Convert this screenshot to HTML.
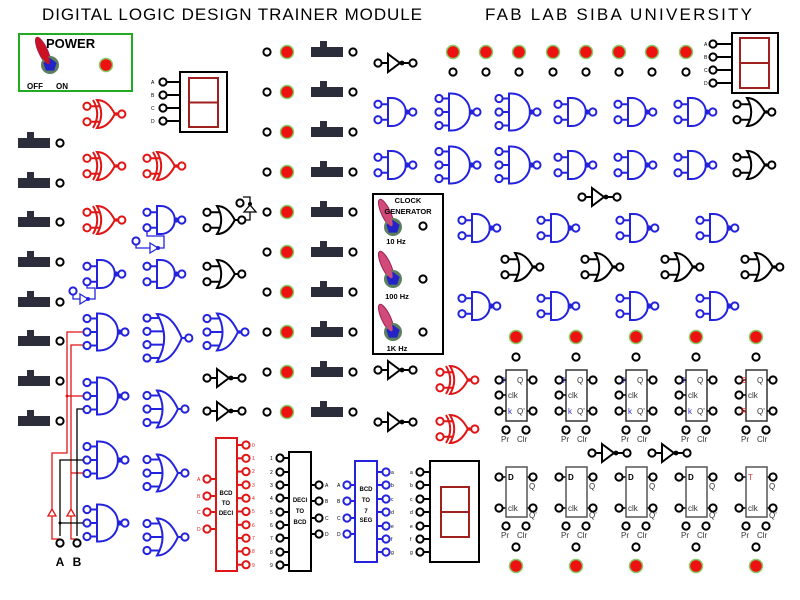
<!DOCTYPE html>
<html><head><meta charset="utf-8"><style>
html,body{margin:0;padding:0;background:#fff;}
svg{display:block;font-family:"Liberation Sans",sans-serif;}
</style></head><body>
<svg width="800" height="600" viewBox="0 0 800 600" xmlns="http://www.w3.org/2000/svg" xmlns:xlink="http://www.w3.org/1999/xlink">
<defs>
<circle id="pin" r="3.6" fill="#fff" stroke="currentColor" stroke-width="2"/>
<circle id="led" r="6.5" fill="#ee1111" stroke="#88cc66" stroke-width="1.5"/>
<g id="sw" fill="#2b2d3a"><rect x="0" y="-5" width="32" height="10"/><rect x="9" y="-11" width="7" height="7"/></g>
<g id="nand2" stroke="currentColor" stroke-width="2" fill="#fff">
<line x1="3.5" y1="-7.75" x2="11" y2="-7.75"/><line x1="3.5" y1="7.75" x2="11" y2="7.75"/>
<circle cx="0" cy="-7.75" r="3.6"/><circle cx="0" cy="7.75" r="3.6"/>
<path d="M10,-14 H13.8 A14,14 0 0 1 13.8,14 H10 Z"/>
<line x1="27.8" y1="0" x2="31.8" y2="0"/><circle cx="29.3" cy="0" r="1.6" fill="currentColor"/><circle cx="34.8" cy="0" r="3.6"/>
</g>
<g id="or2" stroke="currentColor" stroke-width="2" fill="#fff">
<line x1="3.5" y1="-7.75" x2="15" y2="-7.75"/><line x1="3.5" y1="7.75" x2="15" y2="7.75"/>
<circle cx="0" cy="-7.75" r="3.6"/><circle cx="0" cy="7.75" r="3.6"/>
<path d="M10,-14 Q20.7,-14 27.8,0 Q20.7,14 10,14 Q18.4,0 10,-14 Z"/>
<line x1="27.8" y1="0" x2="31.8" y2="0"/><circle cx="34.8" cy="0" r="3.6"/>
</g>
<g id="nor2"><use href="#or2"/><circle cx="29.3" cy="0" r="1.8" fill="currentColor"/></g>
<g id="xnor2"><use href="#nor2"/><path d="M6,-14 Q14.4,0 6,14" fill="none" stroke="currentColor" stroke-width="2"/></g>
<g id="nand3" stroke="currentColor" stroke-width="2" fill="#fff">
<line x1="3.5" y1="-13.5" x2="11" y2="-13.5"/><line x1="3.5" y1="0" x2="11" y2="0"/><line x1="3.5" y1="13.5" x2="11" y2="13.5"/>
<circle cx="0" cy="-13.5" r="3.6"/><circle cx="0" cy="0" r="3.6"/><circle cx="0" cy="13.5" r="3.6"/>
<path d="M10,-18.5 H12.45 A18.5,18.5 0 0 1 12.45,18.5 H10 Z"/>
<line x1="30.95" y1="0" x2="34.95" y2="0"/><circle cx="32.45" cy="0" r="1.6" fill="currentColor"/><circle cx="37.95" cy="0" r="3.6"/>
</g>
<g id="or3" stroke="currentColor" stroke-width="2" fill="#fff">
<line x1="3.5" y1="-13.5" x2="16" y2="-13.5"/><line x1="3.5" y1="0" x2="18" y2="0"/><line x1="3.5" y1="13.5" x2="16" y2="13.5"/>
<circle cx="0" cy="-13.5" r="3.6"/><circle cx="0" cy="0" r="3.6"/><circle cx="0" cy="13.5" r="3.6"/>
<path d="M10,-18.5 Q22.57,-18.5 30.95,0 Q22.57,18.5 10,18.5 Q21.1,0 10,-18.5 Z"/>
<line x1="30.95" y1="0" x2="34.95" y2="0"/><circle cx="37.95" cy="0" r="3.6"/>
</g>
<g id="nor3"><use href="#or3"/><circle cx="32.45" cy="0" r="1.8" fill="currentColor"/></g>
<g id="or4" stroke="currentColor" stroke-width="2" fill="#fff">
<line x1="3.5" y1="-19.95" x2="15" y2="-19.95"/><line x1="3.5" y1="-6.65" x2="19" y2="-6.65"/><line x1="3.5" y1="6.65" x2="19" y2="6.65"/><line x1="3.5" y1="19.95" x2="15" y2="19.95"/>
<circle cx="0" cy="-19.95" r="3.6"/><circle cx="0" cy="-6.65" r="3.6"/><circle cx="0" cy="6.65" r="3.6"/><circle cx="0" cy="19.95" r="3.6"/>
<path d="M10,-24 Q24.9,-24 34.8,0 Q24.9,24 10,24 Q24.4,0 10,-24 Z"/>
<line x1="34.8" y1="0" x2="38.8" y2="0"/><circle cx="41.8" cy="0" r="3.6"/>
</g>
<g id="inv" stroke="currentColor" stroke-width="2" fill="#fff">
<circle cx="0" cy="0" r="3.6"/><line x1="3.5" y1="0" x2="10" y2="0"/>
<path d="M10,-9 L22,0 L10,9 Z"/><circle cx="24" cy="0" r="2.4" fill="currentColor" stroke="none"/>
<line x1="24" y1="0" x2="31" y2="0"/><circle cx="35" cy="0" r="3.6"/>
</g>
<g id="knob">
<ellipse cx="-7" cy="-14" rx="4.5" ry="15" fill="currentColor" stroke="#a02050" stroke-width="1" transform="rotate(-25 -7 -14)"/>
<circle r="9" fill="#5d7f5d"/>
<polygon points="0,-7 6.66,-2.16 4.11,5.66 -4.11,5.66 -6.66,-2.16" fill="#2323c8"/>
<ellipse cx="-5" cy="-9" rx="3" ry="9" fill="currentColor" transform="rotate(-25 -5 -9)"/>
</g>
<g id="ff" color="#000">
<use href="#led" x="10" y="337"/><use href="#pin" x="10" y="357"/>
<rect x="0" y="370" width="21" height="51" fill="none" stroke="#333" stroke-width="1.5"/>
<g stroke="#000" stroke-width="1.5"><line x1="-4" y1="380" x2="0" y2="380"/><line x1="-4" y1="395" x2="0" y2="395"/><line x1="-4" y1="411" x2="0" y2="411"/><line x1="21" y1="380" x2="24" y2="380"/><line x1="21" y1="411" x2="24" y2="411"/>
<line x1="-4" y1="477" x2="0" y2="477"/><line x1="-4" y1="508" x2="0" y2="508"/><line x1="21" y1="477" x2="24" y2="477"/><line x1="21" y1="508" x2="24" y2="508"/></g>
<use href="#pin" x="-7" y="380"/><use href="#pin" x="-7" y="395"/><use href="#pin" x="-7" y="411"/><use href="#pin" x="27" y="380"/><use href="#pin" x="27" y="411"/>
<use href="#pin" x="0" y="430"/><use href="#pin" x="20" y="430"/>
<rect x="0" y="467" width="21" height="50" fill="none" stroke="#555" stroke-width="1.5"/>
<use href="#pin" x="-7" y="477"/><use href="#pin" x="-7" y="508"/><use href="#pin" x="27" y="477"/><use href="#pin" x="27" y="508"/>
<use href="#pin" x="0" y="526"/><use href="#pin" x="20" y="526"/>
<use href="#pin" x="10" y="547"/><use href="#led" x="10" y="566"/>
</g>
</defs>
<rect width="800" height="600" fill="#fff"/>
<text x="42" y="20" font-size="17" textLength="380" lengthAdjust="spacing">DIGITAL  LOGIC  DESIGN  TRAINER  MODULE</text>
<text x="485" y="20" font-size="17" textLength="267" lengthAdjust="spacing">FAB  LAB  SIBA  UNIVERSITY</text>
<rect x="19" y="34" width="113" height="57" fill="none" stroke="#22aa22" stroke-width="2"/>
<use href="#knob" x="50" y="65" color="#cc1122"/>
<text x="46" y="48" font-size="13" font-weight="bold">POWER</text>
<text x="27" y="89" font-size="8" font-weight="bold">OFF</text>
<text x="56" y="89" font-size="8" font-weight="bold">ON</text>
<use href="#led" x="106" y="65"/>

<!-- small 7seg top-left -->
<g stroke="#000" stroke-width="2"><line x1="166" y1="82" x2="180" y2="82"/><line x1="166" y1="95" x2="180" y2="95"/><line x1="166" y1="108" x2="180" y2="108"/><line x1="166" y1="121" x2="180" y2="121"/></g>
<g color="#000"><use href="#pin" x="163" y="82"/><use href="#pin" x="163" y="95"/><use href="#pin" x="163" y="108"/><use href="#pin" x="163" y="121"/></g>
<rect x="180" y="72" width="47" height="60" fill="#fff" stroke="#000" stroke-width="2"/>
<rect x="189" y="78" width="29" height="49" fill="none" stroke="#a02020" stroke-width="2"/><line x1="189" y1="102.5" x2="218" y2="102.5" stroke="#a02020" stroke-width="2"/>
<!-- top-right 7seg -->
<g stroke="#000" stroke-width="2"><line x1="716" y1="44" x2="732" y2="44"/><line x1="716" y1="57" x2="732" y2="57"/><line x1="716" y1="70" x2="732" y2="70"/><line x1="716" y1="83" x2="732" y2="83"/></g>
<g color="#000"><use href="#pin" x="713" y="44"/><use href="#pin" x="713" y="57"/><use href="#pin" x="713" y="70"/><use href="#pin" x="713" y="83"/></g>
<rect x="732" y="33" width="46" height="60" fill="#fff" stroke="#000" stroke-width="2"/>
<rect x="740" y="38" width="29" height="50" fill="none" stroke="#a02020" stroke-width="2"/><line x1="740" y1="63" x2="769" y2="63" stroke="#a02020" stroke-width="2"/>

<g font-size="5">
<text x="151" y="84">A</text><text x="151" y="97">B</text><text x="151" y="110">C</text><text x="151" y="123">D</text>
<text x="704" y="46">A</text><text x="704" y="59">B</text><text x="704" y="72">C</text><text x="704" y="85">D</text>
</g>

<!-- left switches -->
<g color="#000">
<use href="#sw" x="18" y="143"/><use href="#pin" x="60" y="143"/>
<use href="#sw" x="18" y="183"/><use href="#pin" x="60" y="183"/>
<use href="#sw" x="18" y="222"/><use href="#pin" x="60" y="222"/>
<use href="#sw" x="18" y="262"/><use href="#pin" x="60" y="262"/>
<use href="#sw" x="18" y="302"/><use href="#pin" x="60" y="302"/>
<use href="#sw" x="18" y="341"/><use href="#pin" x="60" y="341"/>
<use href="#sw" x="18" y="381"/><use href="#pin" x="60" y="381"/>
<use href="#sw" x="18" y="421"/><use href="#pin" x="60" y="421"/>
</g>
<!-- mid column -->
<g color="#000">
<use href="#pin" x="267" y="52"/><use href="#led" x="287" y="52"/><use href="#sw" x="311" y="52"/><use href="#pin" x="353" y="52"/>
<use href="#pin" x="267" y="92"/><use href="#led" x="287" y="92"/><use href="#sw" x="311" y="92"/><use href="#pin" x="353" y="92"/>
<use href="#pin" x="267" y="132"/><use href="#led" x="287" y="132"/><use href="#sw" x="311" y="132"/><use href="#pin" x="353" y="132"/>
<use href="#pin" x="267" y="172"/><use href="#led" x="287" y="172"/><use href="#sw" x="311" y="172"/><use href="#pin" x="353" y="172"/>
<use href="#pin" x="267" y="212"/><use href="#led" x="287" y="212"/><use href="#sw" x="311" y="212"/><use href="#pin" x="353" y="212"/>
<use href="#pin" x="267" y="252"/><use href="#led" x="287" y="252"/><use href="#sw" x="311" y="252"/><use href="#pin" x="353" y="252"/>
<use href="#pin" x="267" y="292"/><use href="#led" x="287" y="292"/><use href="#sw" x="311" y="292"/><use href="#pin" x="353" y="292"/>
<use href="#pin" x="267" y="332"/><use href="#led" x="287" y="332"/><use href="#sw" x="311" y="332"/><use href="#pin" x="353" y="332"/>
<use href="#pin" x="267" y="372"/><use href="#led" x="287" y="372"/><use href="#sw" x="311" y="372"/><use href="#pin" x="353" y="372"/>
<use href="#pin" x="267" y="412"/><use href="#led" x="287" y="412"/><use href="#sw" x="311" y="412"/><use href="#pin" x="353" y="412"/>
</g>

<!-- left gates -->
<g color="#e01515">
<use href="#xnor2" x="87" y="114"/><use href="#xnor2" x="87" y="166"/><use href="#xnor2" x="147" y="166"/><use href="#xnor2" x="87" y="220"/>
<use href="#xnor2" x="440" y="380"/><use href="#xnor2" x="440" y="429"/>
</g>
<g color="#2323dd">
<use href="#nand2" x="147" y="220"/><use href="#nand2" x="147" y="274"/><use href="#nand2" x="87" y="274"/>
<use href="#nand3" x="87" y="332"/><use href="#nand3" x="87" y="396"/><use href="#nand3" x="87" y="460"/><use href="#nand3" x="87" y="523"/>
<use href="#or4" x="147" y="338"/><use href="#or3" x="147" y="409"/><use href="#or3" x="147" y="473"/><use href="#or3" x="147" y="537"/>
<use href="#nor3" x="207" y="332"/>
<use href="#nand2" x="378" y="112"/><use href="#nand2" x="378" y="165"/>
<use href="#nand3" x="439" y="112"/><use href="#nand3" x="499" y="112"/><use href="#nand2" x="558" y="112"/><use href="#nand2" x="618" y="112"/><use href="#nand2" x="678" y="112"/>
<use href="#nand3" x="439" y="165"/><use href="#nand3" x="499" y="165"/><use href="#nand2" x="558" y="165"/><use href="#nand2" x="618" y="165"/><use href="#nand2" x="678" y="165"/>
<use href="#nand2" x="462" y="228"/><use href="#nand2" x="541" y="228"/><use href="#nand2" x="620" y="228"/><use href="#nand2" x="700" y="228"/>
<use href="#nand2" x="462" y="306"/><use href="#nand2" x="541" y="306"/><use href="#nand2" x="620" y="306"/><use href="#nand2" x="700" y="306"/>
</g>
<g color="#000">
<use href="#or2" x="207" y="220"/><use href="#or2" x="207" y="274"/>
<use href="#inv" x="207" y="378"/><use href="#inv" x="207" y="411"/>
<use href="#inv" x="378" y="63"/><use href="#inv" x="378" y="370"/><use href="#inv" x="378" y="422"/>
<use href="#nor2" x="737" y="112"/><use href="#nor2" x="737" y="165"/>
<use href="#inv" x="582" y="197"/>
<use href="#nor2" x="505" y="267"/><use href="#nor2" x="585" y="267"/><use href="#nor2" x="665" y="267"/><use href="#nor2" x="745" y="267"/>
<use href="#inv" x="592" y="453"/><use href="#inv" x="652" y="453"/>
</g>

<!-- small buffers -->
<g fill="none" stroke="#2323dd" stroke-width="1.3">
<circle cx="136" cy="241" r="3.6" stroke-width="2" fill="#fff"/>
<polyline points="136,245 136,248 150,248"/><path d="M150,243 L158,248 L150,253 Z" fill="#fff"/><polyline points="158,248 164,248 164,236 147,236 147,232"/>
<circle cx="73" cy="291" r="3.6" stroke-width="2" fill="#fff"/>
<polyline points="73,295 73,299 80,299"/><path d="M80,294 L88,299 L80,304 Z" fill="#fff"/><polyline points="88,299 95,299 95,288 87,288 87,286"/>
</g>
<circle cx="158" cy="248" r="2" fill="#2323dd"/><circle cx="88" cy="299" r="2" fill="#2323dd"/>
<g fill="none" stroke="#000" stroke-width="1.3">
<circle cx="240" cy="203" r="3.6" stroke-width="2" fill="#fff"/>
<polyline points="243,197 250,197 250,204"/><path d="M244,212 L250,205 L256,212 Z" fill="#fff"/><polyline points="250,212 250,220 245,220"/>
</g>
<circle cx="250" cy="204" r="2" fill="#000"/>

<!-- wires -->
<g fill="none" stroke-width="1.3">
<polyline points="60,539 52,539 52,453 67,453 67,332 83,332" stroke="#e01515"/>
<polyline points="77,539 71,539 71,345 83,345" stroke="#e01515"/>
<polyline points="67,396 83,396" stroke="#e01515"/><polyline points="71,473 83,473" stroke="#e01515"/>
<polyline points="77,536 77,409 83,409" stroke="#000"/><polyline points="60,536 60,460 83,460" stroke="#000"/><polyline points="60,523 83,523" stroke="#000"/>
<path d="M48,516 L52,509 L56,516 Z" fill="#fff" stroke="#e01515"/><path d="M67,516 L71,509 L75,516 Z" fill="#fff" stroke="#e01515"/>
</g>
<circle cx="67" cy="396" r="1.5" fill="#e01515"/><circle cx="60" cy="523" r="1.5" fill="#000"/>
<g color="#000"><use href="#pin" x="60" y="543"/><use href="#pin" x="77" y="543"/></g>
<text x="60" y="566" font-size="12" font-weight="bold" text-anchor="middle">A</text><text x="77" y="566" font-size="12" font-weight="bold" text-anchor="middle">B</text>

<!-- clock generator -->
<rect x="373" y="194" width="70" height="160" fill="none" stroke="#000" stroke-width="2"/>
<g color="#d04a7a"><use href="#knob" x="393" y="227"/><use href="#knob" x="393" y="279"/><use href="#knob" x="393" y="332"/></g>
<g color="#000"><use href="#pin" x="423" y="226"/><use href="#pin" x="423" y="279"/><use href="#pin" x="423" y="332"/></g>
<g font-size="7.5" font-weight="bold" text-anchor="middle">
<text x="408" y="203">CLOCK</text><text x="408" y="214">GENERATOR</text>
<text x="396" y="244">10 Hz</text><text x="397" y="299">100 Hz</text><text x="397" y="351">1K Hz</text>
</g>

<!-- top right LEDs -->
<g color="#000">
<use href="#led" x="453" y="52"/><use href="#pin" x="453" y="72"/>
<use href="#led" x="486" y="52"/><use href="#pin" x="486" y="72"/>
<use href="#led" x="519" y="52"/><use href="#pin" x="519" y="72"/>
<use href="#led" x="553" y="52"/><use href="#pin" x="553" y="72"/>
<use href="#led" x="586" y="52"/><use href="#pin" x="586" y="72"/>
<use href="#led" x="619" y="52"/><use href="#pin" x="619" y="72"/>
<use href="#led" x="652" y="52"/><use href="#pin" x="652" y="72"/>
<use href="#led" x="686" y="52"/><use href="#pin" x="686" y="72"/>
</g>

<!-- flip flops -->
<use href="#ff" x="506"/><use href="#ff" x="566"/><use href="#ff" x="626"/><use href="#ff" x="686"/><use href="#ff" x="746"/>
<g font-size="8" fill="#333">
<text x="501" y="383" fill="#33c">J</text><text x="561" y="383" fill="#33c">J</text><text x="621" y="383" fill="#33c">J</text><text x="681" y="383" fill="#33c">J</text><text x="741" y="383" fill="#d33">S</text>
<text x="517" y="383">Q</text><text x="577" y="383">Q</text><text x="637" y="383">Q</text><text x="697" y="383">Q</text><text x="757" y="383">Q</text>
<text x="508" y="398">clk</text><text x="568" y="398">clk</text><text x="628" y="398">clk</text><text x="688" y="398">clk</text><text x="748" y="398">clk</text>
<text x="508" y="414" fill="#33c">k</text><text x="568" y="414" fill="#33c">k</text><text x="628" y="414" fill="#33c">k</text><text x="688" y="414" fill="#33c">k</text><text x="741" y="414" fill="#d33">R</text>
<text x="517" y="414">Q'</text><text x="577" y="414">Q'</text><text x="637" y="414">Q'</text><text x="697" y="414">Q'</text><text x="757" y="414">Q'</text>
<text x="501" y="442">Pr</text><text x="561" y="442">Pr</text><text x="621" y="442">Pr</text><text x="681" y="442">Pr</text><text x="741" y="442">Pr</text>
<text x="517" y="442">Clr</text><text x="577" y="442">Clr</text><text x="637" y="442">Clr</text><text x="697" y="442">Clr</text><text x="757" y="442">Clr</text>
<text x="508" y="480" font-weight="bold" fill="#000">D</text><text x="568" y="480" font-weight="bold" fill="#000">D</text><text x="628" y="480" font-weight="bold" fill="#000">D</text><text x="688" y="480" font-weight="bold" fill="#000">D</text><text x="748" y="480" fill="#d33">T</text>
<text x="529" y="489">Q</text><text x="589" y="489">Q</text><text x="649" y="489">Q</text><text x="709" y="489">Q</text><text x="769" y="489">Q</text>
<text x="508" y="511">clk</text><text x="568" y="511">clk</text><text x="628" y="511">clk</text><text x="688" y="511">clk</text><text x="748" y="511">clk</text>
<text x="529" y="518">Q'</text><text x="589" y="518">Q'</text><text x="649" y="518">Q'</text><text x="709" y="518">Q'</text><text x="769" y="518">Q'</text>
<text x="501" y="538">Pr</text><text x="561" y="538">Pr</text><text x="621" y="538">Pr</text><text x="681" y="538">Pr</text><text x="741" y="538">Pr</text>
<text x="517" y="538">Clr</text><text x="577" y="538">Clr</text><text x="637" y="538">Clr</text><text x="697" y="538">Clr</text><text x="757" y="538">Clr</text>
</g>

<!-- BCD to DECI -->
<g stroke="#e01515" stroke-width="2">
<line x1="210" y1="479" x2="216" y2="479"/><line x1="210" y1="496" x2="216" y2="496"/><line x1="210" y1="512" x2="216" y2="512"/><line x1="210" y1="529" x2="216" y2="529"/>
<line x1="237" y1="445" x2="243" y2="445"/><line x1="237" y1="458.3" x2="243" y2="458.3"/><line x1="237" y1="471.6" x2="243" y2="471.6"/><line x1="237" y1="484.9" x2="243" y2="484.9"/><line x1="237" y1="498.2" x2="243" y2="498.2"/><line x1="237" y1="511.5" x2="243" y2="511.5"/><line x1="237" y1="524.8" x2="243" y2="524.8"/><line x1="237" y1="538.1" x2="243" y2="538.1"/><line x1="237" y1="551.4" x2="243" y2="551.4"/><line x1="237" y1="564.7" x2="243" y2="564.7"/>
</g>
<g color="#e01515">
<use href="#pin" x="207" y="479"/><use href="#pin" x="207" y="496"/><use href="#pin" x="207" y="512"/><use href="#pin" x="207" y="529"/>
<use href="#pin" x="246" y="445"/><use href="#pin" x="246" y="458.3"/><use href="#pin" x="246" y="471.6"/><use href="#pin" x="246" y="484.9"/><use href="#pin" x="246" y="498.2"/><use href="#pin" x="246" y="511.5"/><use href="#pin" x="246" y="524.8"/><use href="#pin" x="246" y="538.1"/><use href="#pin" x="246" y="551.4"/><use href="#pin" x="246" y="564.7"/>
</g>
<rect x="216" y="438" width="21" height="133" fill="#fff" stroke="#e01515" stroke-width="2"/>

<!-- DECI to BCD -->
<g stroke="#000" stroke-width="2">
<line x1="283" y1="458" x2="289" y2="458"/><line x1="283" y1="472" x2="289" y2="472"/><line x1="283" y1="485" x2="289" y2="485"/><line x1="283" y1="498" x2="289" y2="498"/><line x1="283" y1="512" x2="289" y2="512"/><line x1="283" y1="525" x2="289" y2="525"/><line x1="283" y1="538" x2="289" y2="538"/><line x1="283" y1="552" x2="289" y2="552"/><line x1="283" y1="565" x2="289" y2="565"/>
<line x1="311" y1="485" x2="316" y2="485"/><line x1="311" y1="501" x2="316" y2="501"/><line x1="311" y1="518" x2="316" y2="518"/><line x1="311" y1="534" x2="316" y2="534"/>
</g>
<g color="#000">
<use href="#pin" x="280" y="458"/><use href="#pin" x="280" y="472"/><use href="#pin" x="280" y="485"/><use href="#pin" x="280" y="498"/><use href="#pin" x="280" y="512"/><use href="#pin" x="280" y="525"/><use href="#pin" x="280" y="538"/><use href="#pin" x="280" y="552"/><use href="#pin" x="280" y="565"/>
<use href="#pin" x="319" y="485"/><use href="#pin" x="319" y="501"/><use href="#pin" x="319" y="518"/><use href="#pin" x="319" y="534"/>
</g>
<rect x="289" y="452" width="22" height="119" fill="#fff" stroke="#000" stroke-width="2"/>

<!-- BCD to 7 SEG -->
<g stroke="#2323dd" stroke-width="2">
<line x1="350" y1="485" x2="355" y2="485"/><line x1="350" y1="501" x2="355" y2="501"/><line x1="350" y1="518" x2="355" y2="518"/><line x1="350" y1="534" x2="355" y2="534"/>
<line x1="377" y1="472" x2="383" y2="472"/><line x1="377" y1="485" x2="383" y2="485"/><line x1="377" y1="499" x2="383" y2="499"/><line x1="377" y1="512" x2="383" y2="512"/><line x1="377" y1="526" x2="383" y2="526"/><line x1="377" y1="539" x2="383" y2="539"/><line x1="377" y1="552" x2="383" y2="552"/>
</g>
<g color="#2323dd">
<use href="#pin" x="347" y="485"/><use href="#pin" x="347" y="501"/><use href="#pin" x="347" y="518"/><use href="#pin" x="347" y="534"/>
<use href="#pin" x="386" y="472"/><use href="#pin" x="386" y="485"/><use href="#pin" x="386" y="499"/><use href="#pin" x="386" y="512"/><use href="#pin" x="386" y="526"/><use href="#pin" x="386" y="539"/><use href="#pin" x="386" y="552"/>
</g>
<rect x="355" y="461" width="22" height="101" fill="#fff" stroke="#2323dd" stroke-width="2"/>

<!-- big 7seg -->
<g stroke="#000" stroke-width="2">
<line x1="423" y1="472" x2="430" y2="472"/><line x1="423" y1="485" x2="430" y2="485"/><line x1="423" y1="499" x2="430" y2="499"/><line x1="423" y1="512" x2="430" y2="512"/><line x1="423" y1="526" x2="430" y2="526"/><line x1="423" y1="539" x2="430" y2="539"/><line x1="423" y1="552" x2="430" y2="552"/>
</g>
<g color="#000">
<use href="#pin" x="420" y="472"/><use href="#pin" x="420" y="485"/><use href="#pin" x="420" y="499"/><use href="#pin" x="420" y="512"/><use href="#pin" x="420" y="526"/><use href="#pin" x="420" y="539"/><use href="#pin" x="420" y="552"/>
</g>
<rect x="430" y="461" width="49" height="101" fill="#fff" stroke="#000" stroke-width="2"/>
<rect x="441" y="487" width="28" height="50" fill="none" stroke="#a02020" stroke-width="2"/><line x1="441" y1="512" x2="469" y2="512" stroke="#a02020" stroke-width="2"/>

<g font-size="6" font-weight="bold" text-anchor="middle">
<text x="226" y="495">BCD</text><text x="226" y="505">TO</text><text x="226" y="515">DECI</text>
<text x="300" y="502">DECI</text><text x="300" y="513">TO</text><text x="300" y="524">BCD</text>
<text x="366" y="491">BCD</text><text x="366" y="502">TO</text><text x="366" y="513">7</text><text x="366" y="522">SEG</text>
</g>
<g font-size="5" fill="#d22">
<text x="197" y="481">A</text><text x="197" y="498">B</text><text x="197" y="514">C</text><text x="197" y="531">D</text>
<text x="252" y="447">0</text><text x="252" y="460">1</text><text x="252" y="473">2</text><text x="252" y="487">3</text><text x="252" y="500">4</text><text x="252" y="513">5</text><text x="252" y="527">6</text><text x="252" y="540">7</text><text x="252" y="553">8</text><text x="252" y="567">9</text>
</g>
<g font-size="5">
<text x="270" y="460">1</text><text x="270" y="474">2</text><text x="270" y="487">3</text><text x="270" y="500">4</text><text x="270" y="514">5</text><text x="270" y="527">6</text><text x="270" y="540">7</text><text x="270" y="554">8</text><text x="270" y="567">9</text>
<text x="325" y="487">A</text><text x="325" y="503">B</text><text x="325" y="520">C</text><text x="325" y="536">D</text>
<text x="337" y="487">A</text><text x="337" y="503">B</text><text x="337" y="520">C</text><text x="337" y="536">D</text>
<text x="391" y="474">a</text><text x="391" y="487">b</text><text x="391" y="501">c</text><text x="391" y="514">d</text><text x="391" y="528">e</text><text x="391" y="541">f</text><text x="391" y="554">g</text>
<text x="410" y="474">a</text><text x="410" y="487">b</text><text x="410" y="501">c</text><text x="410" y="514">d</text><text x="410" y="528">e</text><text x="410" y="541">f</text><text x="410" y="554">g</text>
</g>
</svg>
</body></html>
